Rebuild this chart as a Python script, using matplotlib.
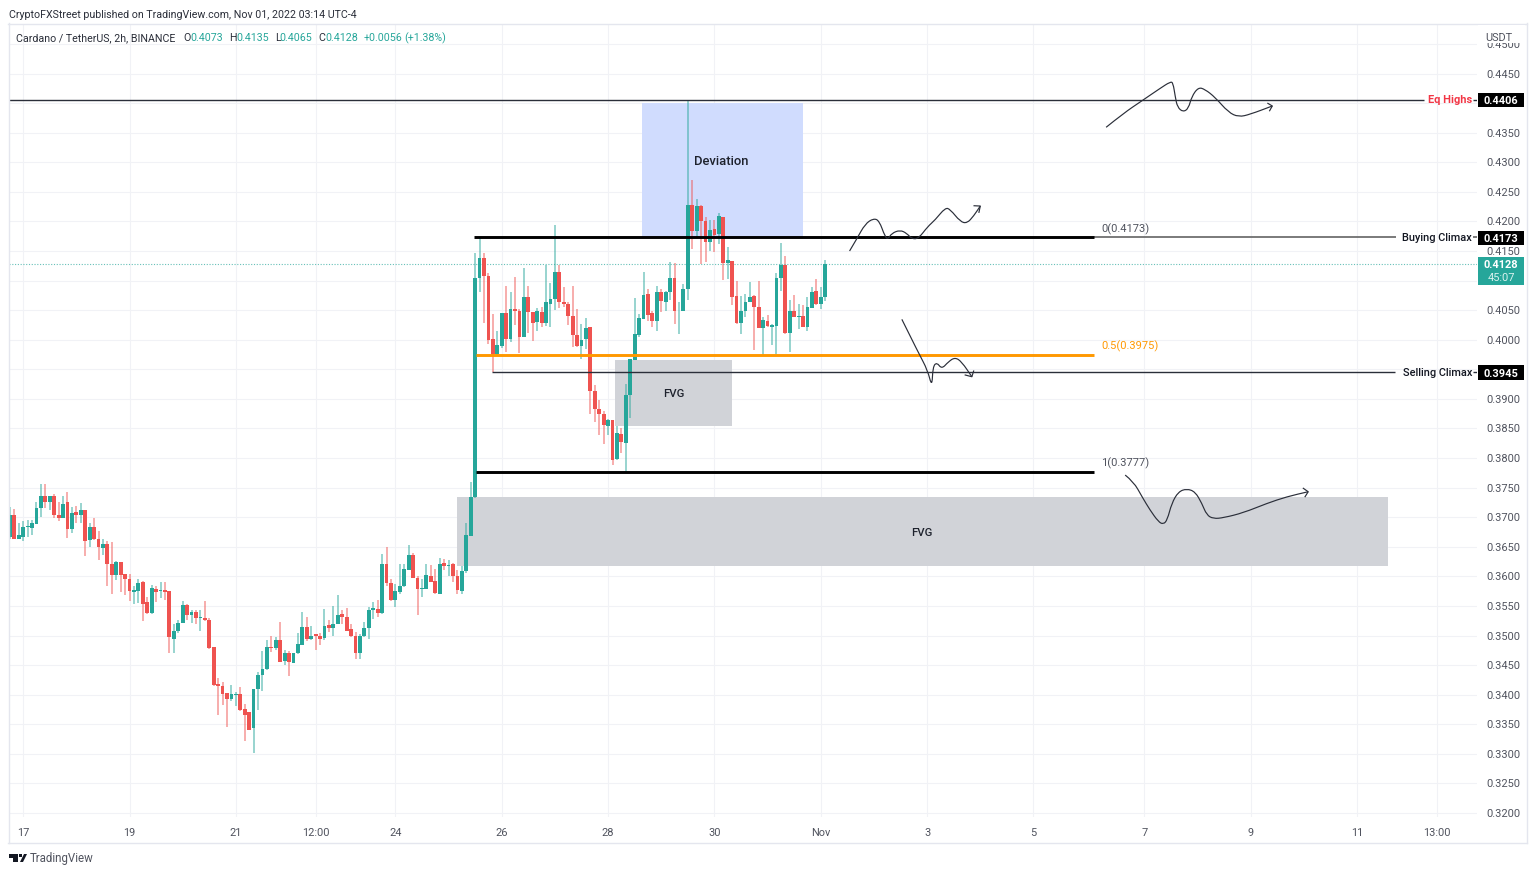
import matplotlib
matplotlib.use("Agg")
import matplotlib.pyplot as plt
import numpy as np
from matplotlib.lines import Line2D
from matplotlib.patches import Polygon, Rectangle, PathPatch
from matplotlib.path import Path

# 2h candles of ADA/USDT, prices times 10000
opens = np.array([
    3666,3704,3664,3667,3684,3682,3689,3716,3736,3725,
    3736,3704,3698,3725,3680,3709,3704,3712,3662,3683,
    3663,3648,3655,3621,3602,3624,3604,3596,3574,3575,
    3590,3556,3538,3579,3576,3577,3575,3495,3507,3522,
    3551,3534,3540,3530,3529,3526,3480,3418,3415,3403,
    3392,3400,3401,3376,3370,3343,3410,3433,3444,3480,
    3479,3493,3457,3470,3454,3470,3484,3514,3494,3502,
    3499,3496,3518,3512,3520,3537,3532,3511,3500,3470,
    3499,3512,3544,3545,3538,3621,3588,3560,3574,3583,
    3611,3636,3598,3578,3579,3601,3592,3571,3622,3618,
    3621,3600,3576,3609,3669,3735,4104,4138,4108,4001,
    3976,3989,4046,4001,4052,4049,4005,4072,4047,4030,
    4047,4029,4061,4069,4115,4064,4061,4040,4008,3989,
    4001,4022,3913,3883,3875,3855,3864,3798,3841,3826,
    3907,3966,4008,4035,4077,4045,4032,4080,4064,4080,
    4104,4048,4048,4085,4228,4183,4226,4201,4165,4187,
    4179,4208,4130,4133,4074,4028,4048,4064,4074,4056,
    4020,4032,4022,4024,4104,4127,4012,4049,4039,4040,
    4021,4054,4083,4061,4073]) / 10000
highs = np.array([
    3717,3714,3690,3693,3695,3695,3726,3757,3756,3736,
    3739,3726,3736,3743,3718,3719,3724,3713,3690,3699,
    3677,3663,3659,3658,3626,3624,3604,3604,3584,3595,
    3592,3566,3585,3583,3591,3591,3575,3520,3526,3558,
    3553,3543,3543,3543,3558,3529,3480,3429,3421,3403,
    3417,3404,3413,3385,3370,3410,3438,3474,3493,3500,
    3498,3523,3475,3474,3471,3505,3539,3531,3516,3503,
    3504,3545,3526,3550,3568,3543,3546,3520,3506,3503,
    3523,3549,3557,3560,3638,3649,3595,3587,3621,3621,
    3653,3640,3600,3596,3621,3619,3612,3631,3629,3628,
    3623,3611,3618,3690,3759,4147,4172,4147,4112,4044,
    4014,4046,4091,4081,4106,4052,4122,4091,4047,4053,
    4055,4127,4096,4194,4127,4089,4063,4091,4052,4027,
    4036,4022,3924,3898,3879,3866,3865,3855,3850,3925,
    3967,4070,4043,4115,4085,4048,4090,4085,4083,4131,
    4129,4063,4094,4406,4270,4238,4228,4207,4202,4202,
    4215,4208,4156,4133,4099,4074,4077,4097,4076,4099,
    4039,4042,4027,4112,4163,4141,4068,4075,4061,4059,
    4073,4089,4103,4089,4135]) / 10000
lows = np.array([
    3664,3664,3664,3660,3667,3670,3689,3701,3716,3712,
    3698,3693,3698,3665,3673,3690,3691,3635,3649,3662,
    3627,3636,3583,3570,3594,3574,3569,3559,3553,3555,
    3525,3536,3536,3556,3564,3560,3471,3471,3504,3521,
    3526,3522,3519,3508,3525,3478,3414,3365,3382,3345,
    3389,3381,3373,3321,3341,3302,3374,3406,3441,3472,
    3476,3455,3451,3431,3454,3469,3484,3490,3492,3476,
    3484,3493,3506,3500,3520,3520,3507,3498,3460,3461,
    3498,3495,3528,3531,3537,3583,3559,3549,3570,3582,
    3611,3597,3534,3566,3578,3590,3570,3571,3610,3601,
    3591,3570,3570,3606,3668,3733,4080,4029,3992,3945,
    3972,3986,3980,3997,4025,3977,4004,4011,3998,4014,
    4021,4024,4021,4051,4053,4056,4025,3987,3987,3967,
    3985,3875,3861,3839,3824,3839,3788,3797,3808,3777,
    3867,3966,4005,4035,4032,4022,4014,4047,4049,4067,
    4026,4009,4048,4068,4153,4173,4128,4131,4150,4149,
    4161,4101,4103,4059,4027,4010,4038,4063,3982,4020,
    3975,4022,3991,3976,4082,4010,3979,4038,4018,4021,
    4015,4053,4059,4052,4065]) / 10000
closes = np.array([
    3704,3664,3670,3684,3685,3690,3715,3736,3725,3736,
    3704,3698,3723,3680,3707,3704,3713,3660,3683,3663,
    3649,3655,3621,3602,3624,3603,3596,3575,3577,3588,
    3554,3538,3580,3574,3577,3574,3497,3507,3521,3551,
    3534,3540,3530,3532,3526,3479,3417,3415,3401,3392,
    3401,3401,3374,3366,3341,3410,3434,3444,3480,3479,
    3493,3456,3470,3456,3471,3486,3514,3494,3500,3499,
    3495,3516,3513,3520,3535,3532,3508,3499,3470,3500,
    3512,3543,3546,3538,3621,3588,3560,3575,3584,3613,
    3636,3598,3578,3580,3602,3591,3572,3621,3617,3620,
    3601,3577,3609,3670,3734,4105,4138,4108,4000,3976,
    3991,4046,4001,4052,4049,4005,4072,4047,4029,4049,
    4029,4063,4069,4115,4063,4060,4040,4008,3989,4000,
    4020,3913,3883,3875,3856,3865,3797,3842,3827,3907,
    3967,4010,4036,4076,4042,4032,4080,4066,4080,4104,
    4048,4049,4085,4228,4183,4226,4200,4165,4186,4177,
    4209,4130,4134,4073,4028,4049,4064,4072,4056,4020,
    4034,4024,4025,4105,4126,4011,4049,4039,4040,4021,
    4055,4081,4061,4073,4128]) / 10000

# axis labels, x is the candle number
time_ticks = [3, 27, 51, 69, 87, 111, 135, 159, 183, 207, 231, 256, 280, 304, 322]
time_labels = ["17", "19", "21", "12:00", "24", "26", "28", "30", "Nov", "3", "5", "7", "9", "11", "13:00"]
price_ticks = [3200 + 50 * i for i in range(27)]
# these sit behind the price tags in the picture
hidden_prices = [3950, 4100, 4400]

# levels drawn on the chart
eq_highs = 0.4406
buying_climax = 0.4173
fib_half = 0.3975
selling_climax = 0.3945
fib_one = 0.3777
last_price = 0.4128

# zones: x start, x end, price low, price high
deviation_zone = (142.7, 179.0, 0.4173, 0.4400)
fvg_small = (136.6, 163.0, 0.3854, 0.3966)
fvg_big = (101.0, 311.0, 0.3618, 0.3734)

# the hand drawn scribbles
eq_sketch_x = [247.4,251.3,255.5,259.6,261.9,262.5,263,263.5,264.8,266,266.7,268.2,269.7,272,275,277.3,279.9,284.9]
eq_sketch_y = [.43591,.43827,.4404,.4425,.44361,.44344,.44108,.43929,.43849,.43912,.44108,.44267,.44233,.44098,.43844,.43765,.4381,.43951]
eq_head_x = [283.9, 284.9, 284.3]
eq_head_y = [.43996, .43951, .43871]

buy_sketch_x = [189.5,191.2,193,194.9,196.2,197.5,198.2,199,200.9,202.4,203.6,205.1,207.1,208.8,211.1,212.2,214.5,216,217.5,219]
buy_sketch_y = [.415,.41714,.41956,.42052,.42012,.41741,.41702,.41799,.41855,.41799,.41702,.41714,.4191,.42024,.42232,.42205,.41995,.41968,.42091,.4226]
buy_head_x = [217.6, 219, 218.7]
buy_head_y = [.42265, .4226, .42154]

sell_sketch_x = [201.3,205.1,207.1,208.1,208.3,209.2,210.3,211.8,213.3,214.8,217.1]
sell_sketch_y = [.40345,.3977,.39488,.39196,.39544,.39618,.39505,.39628,.39703,.39628,.39375]
sell_head_x = [215.6, 217.1, 217.5]
sell_head_y = [.39404, .39375, .39471]

fvg_sketch_x = [251.7,253.6,255.5,257.3,259.2,260.3,261.2,262.2,263.7,265.6,267.5,269,270.1,271.6,273.9,278.4,283.7,288.2,293]
fvg_sketch_y = [.37713,.376,.37347,.37122,.36924,.3688,.36953,.37235,.37431,.37482,.37431,.37235,.37037,.36975,.36991,.37076,.37235,.37347,.37431]
fvg_head_x = [291.9, 293, 292.3]
fvg_head_y = [.37489, .37431, .37347]

GREEN = "#26a69a"
RED = "#ef5350"
GRID = "#f1f2f6"
FRAME = "#e4e6ee"
TEXT = "#50535e"
FONT = "Roboto"

W, H = 1536, 874
plt.rcParams["font.family"] = [FONT, "DejaVu Sans"]


# figure fractions from picture pixels, only for the chrome around the chart
def fx(px):
    return px / W


def fy(py):
    return 1 - py / H


def fig_text(px, py, s, **kw):
    kw.setdefault("va", "center")
    kw.setdefault("fontsize", 7.9)
    kw.setdefault("color", TEXT)
    fig.text(fx(px), fy(py + 0.8), s, zorder=8, **kw)


def fig_rect(x0, y0, x1, y1, color):
    fig.add_artist(Rectangle((fx(x0), fy(y1)), fx(x1) - fx(x0), fy(y0) - fy(y1),
                             transform=fig.transFigure, facecolor=color, edgecolor="none", zorder=6))


def fig_line(x0, y0, x1, y1, color=FRAME, lw=1.0):
    fig.add_artist(Line2D([fx(x0), fx(x1)], [fy(y0), fy(y1)], transform=fig.transFigure,
                          color=color, lw=lw, zorder=6))


# quadratic curves through the midpoints, so the scribble looks drawn by hand
def sketch(ax, xs, ys, head_x, head_y):
    pts = list(zip(xs, ys))
    verts = [pts[0]]
    codes = [Path.MOVETO]
    for i in range(1, len(pts) - 1):
        mid = ((pts[i][0] + pts[i + 1][0]) / 2, (pts[i][1] + pts[i + 1][1]) / 2)
        verts += [pts[i], mid]
        codes += [Path.CURVE3, Path.CURVE3]
    verts.append(pts[-1])
    codes.append(Path.LINETO)
    ax.add_patch(PathPatch(Path(verts, codes), facecolor="none", edgecolor="#2a2e39", lw=0.85, zorder=5))
    ax.plot(head_x, head_y, color="#2a2e39", lw=0.85, zorder=5)


def zone(ax, box, color):
    x0, x1, low, high = box
    ax.add_patch(Rectangle((x0, low), x1 - x0, high - low, facecolor=color, edgecolor="none", zorder=2))


fig = plt.figure(figsize=(W / 100, H / 100), dpi=100, facecolor="white")
ax = fig.add_axes([fx(9), fy(817), fx(1477) - fx(9), fy(24) - fy(817)])
ax.set_xlim(-0.2, 331.1)
ax.set_ylim(0.31933, 0.45337)
ax.set_axisbelow("line")

ax.set_xticks(time_ticks)
ax.set_xticklabels(time_labels)
ax.set_yticks([p / 10000 for p in price_ticks])
ax.set_yticklabels(["" if p in hidden_prices else "%.4f" % (p / 10000) for p in price_ticks])
ax.yaxis.tick_right()
ax.tick_params(axis="both", length=0, labelsize=7.9, labelcolor=TEXT)
ax.tick_params(axis="y", pad=6.5)
ax.tick_params(axis="x", pad=8)
ax.grid(True, color=GRID, lw=0.8)
for side in ax.spines:
    ax.spines[side].set_visible(False)

# zones go under the candles
zone(ax, deviation_zone, "#d0dcfe")
zone(ax, fvg_small, "#d1d3d8")
zone(ax, fvg_big, "#d1d3d8")

# candles
xs = np.arange(len(opens))
colors = [GREEN if c >= o else RED for o, c in zip(opens, closes)]
ax.vlines(xs, lows, highs, colors=colors, lw=1.1, alpha=0.6, zorder=3)
ax.bar(xs, np.abs(closes - opens), bottom=np.minimum(opens, closes), width=0.86,
       color=colors, linewidth=0, zorder=4)

# last price
ax.axhline(last_price, color=GREEN, lw=0.8, ls=(0, (1, 1.5)), alpha=0.7, zorder=3)

# eq highs and the two climax lines, each broken by its label
ax.hlines(eq_highs, -0.2, 319.2, color="#2a2e39", lw=1.0, zorder=5)
ax.hlines(eq_highs, 330.2, 331.1, color="#2a2e39", lw=1.0, zorder=5)
ax.hlines(buying_climax, 244.7, 312.8, color="#6f6f6f", lw=1.3, zorder=5)
ax.hlines(buying_climax, 330.2, 331.1, color="#6f6f6f", lw=1.3, zorder=5)
ax.hlines(selling_climax, 108.9, 312.6, color="#2a2e39", lw=1.0, zorder=5)
ax.hlines(selling_climax, 330.2, 331.1, color="#2a2e39", lw=1.0, zorder=5)

# fib levels
ax.hlines(buying_climax, 104.8, 244.7, color="black", lw=2.1, zorder=5)
ax.hlines(fib_half, 105.2, 244.7, color="#ff9800", lw=2.1, zorder=5)
ax.hlines(fib_one, 105.2, 244.7, color="black", lw=2.1, zorder=5)

ax.text(246.3, buying_climax + 0.00145, "0(0.4173)", fontsize=8, color="#50535e", va="center")
ax.text(246.3, fib_half + 0.00145, "0.5(0.3975)", fontsize=8, color="#ff9800", va="center")
ax.text(246.3, fib_one + 0.00145, "1(0.3777)", fontsize=8, color="#50535e", va="center")

ax.text(160.6, 0.4301, "Deviation", fontsize=9.4, color="#1e222d", fontweight="medium", ha="center", va="center", zorder=6)
ax.text(149.9, 0.3909, "FVG", fontsize=8.2, color="#1e222d", fontweight="medium", ha="center", va="center", zorder=6)
ax.text(205.7, 0.3674, "FVG", fontsize=8.2, color="#1e222d", fontweight="medium", ha="center", va="center", zorder=6)

ax.text(330.0, eq_highs - 0.0001, "Eq Highs", fontsize=7.9, color="#f23645", fontweight="bold", ha="right", va="center", zorder=6)
ax.text(330.0, buying_climax - 0.0001, "Buying Climax", fontsize=7.9, color="#131722", fontweight="medium", ha="right", va="center", zorder=6)
ax.text(330.0, selling_climax - 0.0001, "Selling Climax", fontsize=7.9, color="#131722", fontweight="medium", ha="right", va="center", zorder=6)

sketch(ax, eq_sketch_x, eq_sketch_y, eq_head_x, eq_head_y)
sketch(ax, buy_sketch_x, buy_sketch_y, buy_head_x, buy_head_y)
sketch(ax, sell_sketch_x, sell_sketch_y, sell_head_x, sell_head_y)
sketch(ax, fvg_sketch_x, fvg_sketch_y, fvg_head_x, fvg_head_y)

# outer frame
fig_line(8, 23.5, 1527, 23.5)
fig_line(8.5, 23, 8.5, 842.5)
fig_line(1526.5, 23, 1526.5, 842.5)
fig_line(8, 842.5, 1527, 842.5)

# price scale tags
fig_rect(1478, 24.5, 1525, 43, "white")
fig_text(1499, 37, "USDT", ha="center")
for py, s in [(100, "0.4406"), (238, "0.4173"), (372.7, "0.3945")]:
    fig_rect(1477.5, py - 7.3, 1524, py + 7.3, "black")
    fig_text(1501, py, s, color="white", ha="center", fontweight="bold")
fig_rect(1477.5, 257.3, 1524, 285, GREEN)
fig_text(1501, 264.5, "0.4128", color="white", ha="center", fontweight="bold")
fig_text(1501, 277.5, "45:07", color="#d9f2ef", ha="center")

# header
fig_text(9, 14, "CryptoFXStreet published on TradingView.com, Nov 01, 2022 03:14 UTC-4", color="#2a2e39", fontsize=7.7)
fig_text(16, 37, "Cardano / TetherUS, 2h, BINANCE", color="#2a2e39", fontsize=7.7)
for px, s, col in [(183.5, "O", "#2a2e39"), (190.7, "0.4073", GREEN), (229, "H", "#2a2e39"), (236.5, "0.4135", GREEN),
                   (274.7, "L", "#2a2e39"), (279.5, "0.4065", GREEN), (318.3, "C", "#2a2e39"), (325, "0.4128", GREEN),
                   (363.3, "+0.0056", GREEN), (404, "(+1.38%)", GREEN)]:
    fig_text(px, 37, s, color=col, fontsize=7.7)

# footer logo
for poly in [[(9, 854), (18, 854), (18, 862), (13, 862), (13, 858), (9, 858)],
             [(20, 862), (24, 854), (27, 854), (23, 862)]]:
    fig.add_artist(Polygon([(fx(x), fy(y)) for x, y in poly], closed=True, transform=fig.transFigure,
                           facecolor="#131722", edgecolor="none", zorder=6))
fig.add_artist(Rectangle((fx(18.5), fy(857)), fx(3), fy(854) - fy(857), transform=fig.transFigure,
                         facecolor="#131722", edgecolor="none", zorder=6))
fig_text(30, 858, "TradingView", color="#50535e", fontsize=8.3)

fig.savefig("out.png", dpi=100)
